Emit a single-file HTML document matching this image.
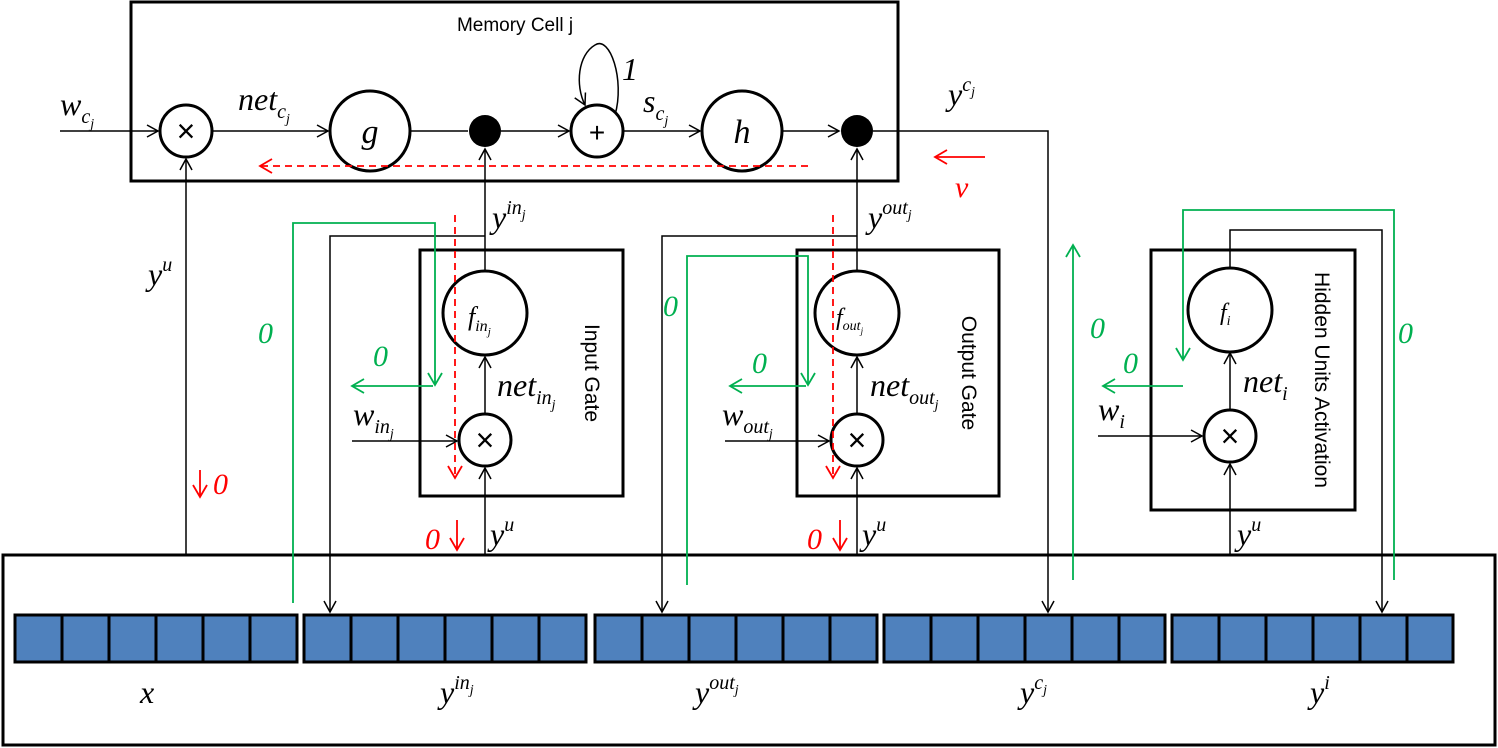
<!DOCTYPE html>
<html><head><meta charset="utf-8"><style>
html,body{margin:0;padding:0;background:#fff}
svg{display:block}
.m{font-family:"Liberation Serif",serif;font-style:italic;fill:#000}
.s{font-family:"Liberation Sans",sans-serif;fill:#000}
.g{font-family:"Liberation Serif",serif;font-style:italic;fill:#00b050;font-size:30px}
.r{font-family:"Liberation Serif",serif;font-style:italic;fill:#ff0000;font-size:30px}
</style></head><body>
<svg width="1498" height="748" viewBox="0 0 1498 748" xmlns="http://www.w3.org/2000/svg">
<defs>
<marker id="a" markerWidth="14" markerHeight="14" refX="12" refY="7" orient="auto" markerUnits="userSpaceOnUse"><path d="M1,1 L12,7 L1,13" fill="none" stroke="#000" stroke-width="1.5"/></marker>
<marker id="agf" markerWidth="18" markerHeight="18" refX="14" refY="8" orient="auto" markerUnits="userSpaceOnUse"><path d="M2,1 L14,8 L2,15" fill="none" stroke="#00b050" stroke-width="1.8"/></marker>
<marker id="ar" markerWidth="18" markerHeight="18" refX="14" refY="8" orient="auto" markerUnits="userSpaceOnUse"><path d="M2,1 L14,8 L2,15" fill="none" stroke="#ff0000" stroke-width="1.8"/></marker>
</defs>
<g fill="none" stroke="#000" stroke-width="3">
<rect x="131" y="2" width="767" height="179"/>
<rect x="420" y="250" width="203" height="246"/>
<rect x="797" y="250" width="202" height="246"/>
<rect x="1151" y="250" width="204" height="260"/>
<rect x="3" y="555" width="1492" height="190"/>
</g>
<text x="515" y="31" class="s" font-size="19" text-anchor="middle">Memory Cell j</text>
<g stroke="#000" stroke-width="1.5" fill="none">
<line x1="60" y1="131" x2="158" y2="131" marker-end="url(#a)"/>
<line x1="212" y1="131" x2="328" y2="131" marker-end="url(#a)"/>
<line x1="410" y1="131" x2="468" y2="131"/>
<line x1="501" y1="131" x2="569" y2="131" marker-end="url(#a)"/>
<line x1="623" y1="131" x2="700" y2="131" marker-end="url(#a)"/>
<line x1="782" y1="131" x2="839" y2="131" marker-end="url(#a)"/>
<path d="M873,131 H1048 V612" marker-end="url(#a)"/>
<path d="M615,115 C625,80 610,35 595,45 C578,55 575,85 585,105" marker-end="url(#a)"/>
<line x1="186" y1="555" x2="186" y2="159" marker-end="url(#a)"/>
<line x1="485" y1="271" x2="485" y2="149" marker-end="url(#a)"/>
<line x1="485" y1="414" x2="485" y2="357" marker-end="url(#a)"/>
<line x1="485" y1="555" x2="485" y2="468" marker-end="url(#a)"/>
<path d="M485,236 H330 V612" marker-end="url(#a)"/>
<line x1="352" y1="441" x2="457" y2="441" marker-end="url(#a)"/>
<line x1="857" y1="271" x2="857" y2="149" marker-end="url(#a)"/>
<line x1="857" y1="414" x2="857" y2="357" marker-end="url(#a)"/>
<line x1="857" y1="555" x2="857" y2="468" marker-end="url(#a)"/>
<path d="M857,236 H662 V612" marker-end="url(#a)"/>
<line x1="725" y1="441" x2="829" y2="441" marker-end="url(#a)"/>
<path d="M1230,268 V230 H1382 V612" marker-end="url(#a)"/>
<line x1="1230" y1="410" x2="1230" y2="353" marker-end="url(#a)"/>
<line x1="1230" y1="555" x2="1230" y2="464" marker-end="url(#a)"/>
<line x1="1098" y1="436" x2="1202" y2="436" marker-end="url(#a)"/>
</g>
<g stroke="#000" stroke-width="3" fill="#fff">
<circle cx="186" cy="131" r="26"/>
<circle cx="370" cy="131" r="40"/>
<circle cx="597" cy="131" r="26"/>
<circle cx="742" cy="131" r="40"/>
<circle cx="485" cy="313" r="42"/>
<circle cx="485" cy="440" r="26"/>
<circle cx="857" cy="313" r="42"/>
<circle cx="857" cy="440" r="26"/>
<circle cx="1230" cy="310" r="42"/>
<circle cx="1230" cy="436" r="26"/>
</g>
<circle cx="485" cy="131" r="16" fill="#000"/>
<circle cx="857" cy="131" r="16" fill="#000"/>
<g class="s" font-size="32" text-anchor="middle">
<text x="186" y="142">×</text><text x="485" y="451">×</text><text x="857" y="451">×</text><text x="1230" y="447">×</text>
<text x="597" y="142" font-size="28">+</text>
</g>
<g stroke="#ff0000" stroke-width="1.8" fill="none">
<line x1="808" y1="166" x2="260" y2="166" stroke-dasharray="7,5" marker-end="url(#ar)"/>
<line x1="985" y1="157" x2="935" y2="157" marker-end="url(#ar)"/>
<line x1="455" y1="215" x2="455" y2="478" stroke-dasharray="7,5" marker-end="url(#ar)"/>
<line x1="833" y1="215" x2="833" y2="478" stroke-dasharray="7,5" marker-end="url(#ar)"/>
<line x1="200" y1="470" x2="200" y2="497" marker-end="url(#ar)"/>
<line x1="457" y1="520" x2="457" y2="550" marker-end="url(#ar)"/>
<line x1="840" y1="520" x2="840" y2="550" marker-end="url(#ar)"/>
</g>
<text x="955" y="197" class="r">v</text>
<text x="213" y="494" class="r">0</text>
<text x="425" y="549" class="r">0</text>
<text x="807" y="549" class="r">0</text>
<g stroke="#00b050" stroke-width="1.8" fill="none">
<path d="M293,603 V223 H435 V385" marker-end="url(#agf)"/>
<line x1="433" y1="386" x2="352" y2="386" marker-end="url(#agf)"/>
<path d="M687,585 V256 H808 V385" marker-end="url(#agf)"/>
<line x1="806" y1="386" x2="730" y2="386" marker-end="url(#agf)"/>
<path d="M1394,580 V210 H1183 V360" marker-end="url(#agf)"/>
<line x1="1183" y1="386" x2="1103" y2="386" marker-end="url(#agf)"/>
<line x1="1073" y1="580" x2="1073" y2="245" marker-end="url(#agf)"/>
</g>
<g class="g">
<text x="258" y="343">0</text><text x="373" y="366">0</text><text x="663" y="316">0</text>
<text x="752" y="373">0</text><text x="1090" y="338">0</text><text x="1123" y="373">0</text><text x="1398" y="343">0</text>
</g>
<g class="m">
<text x="60" y="115" font-size="32">w<tspan font-size="20" dy="8">c</tspan><tspan font-size="14" dy="5">j</tspan></text>
<text x="238" y="110" font-size="32">net<tspan font-size="20" dy="8">c</tspan><tspan font-size="14" dy="5">j</tspan></text>
<text x="370" y="143" font-size="34" text-anchor="middle">g</text>
<text x="742" y="143" font-size="34" text-anchor="middle">h</text>
<text x="622" y="80" font-size="32">1</text>
<text x="643" y="112" font-size="32">s<tspan font-size="20" dy="8">c</tspan><tspan font-size="14" dy="5">j</tspan></text>
<text x="948" y="105" font-size="32">y<tspan font-size="20" dy="-14">c</tspan><tspan font-size="14" dy="5">j</tspan></text>
<text x="148" y="285" font-size="32">y<tspan font-size="20" dy="-14">u</tspan></text>
<text x="492" y="228" font-size="32">y<tspan font-size="20" dy="-14">in</tspan><tspan font-size="14" dy="5">j</tspan></text>
<text x="868" y="228" font-size="32">y<tspan font-size="20" dy="-14">out</tspan><tspan font-size="14" dy="5">j</tspan></text>
<text x="468" y="325" font-size="26">f<tspan font-size="16" dy="6">in</tspan><tspan font-size="11" dy="4">j</tspan></text>
<text x="836" y="325" font-size="24">f<tspan font-size="14" dy="5">out</tspan><tspan font-size="9" dy="4">j</tspan></text>
<text x="1220" y="320" font-size="24">f<tspan font-size="14" dy="5">i</tspan></text>
<text x="497" y="396" font-size="32">net<tspan font-size="20" dy="8">in</tspan><tspan font-size="14" dy="5">j</tspan></text>
<text x="870" y="396" font-size="32">net<tspan font-size="20" dy="8">out</tspan><tspan font-size="14" dy="5">j</tspan></text>
<text x="1243" y="392" font-size="32">net<tspan font-size="20" dy="8">i</tspan></text>
<text x="353" y="425" font-size="32">w<tspan font-size="20" dy="8">in</tspan><tspan font-size="14" dy="5">j</tspan></text>
<text x="722" y="425" font-size="32">w<tspan font-size="20" dy="8">out</tspan><tspan font-size="14" dy="5">j</tspan></text>
<text x="1098" y="420" font-size="32">w<tspan font-size="20" dy="8">i</tspan></text>
<text x="490" y="545" font-size="32">y<tspan font-size="20" dy="-14">u</tspan></text>
<text x="862" y="545" font-size="32">y<tspan font-size="20" dy="-14">u</tspan></text>
<text x="1237" y="545" font-size="32">y<tspan font-size="20" dy="-14">u</tspan></text>
<text x="140" y="703" font-size="32">x</text>
<text x="440" y="703" font-size="32">y<tspan font-size="20" dy="-14">in</tspan><tspan font-size="14" dy="5">j</tspan></text>
<text x="695" y="703" font-size="32">y<tspan font-size="20" dy="-14">out</tspan><tspan font-size="14" dy="5">j</tspan></text>
<text x="1020" y="703" font-size="32">y<tspan font-size="20" dy="-14">c</tspan><tspan font-size="14" dy="5">j</tspan></text>
<text x="1310" y="703" font-size="32">y<tspan font-size="20" dy="-14">i</tspan></text>
</g>
<g class="s" font-size="21" text-anchor="middle">
<text transform="translate(585,373) rotate(90)">Input Gate</text>
<text transform="translate(962,373) rotate(90)">Output Gate</text>
<text transform="translate(1315,380) rotate(90)">Hidden Units Activation</text>
</g>
<g fill="#4f81bd" stroke="#000" stroke-width="3">
<rect x="15" y="615" width="282" height="47"/>
<rect x="304" y="615" width="282" height="47"/>
<rect x="595" y="615" width="282" height="47"/>
<rect x="884" y="615" width="281" height="47"/>
<rect x="1172" y="615" width="281" height="47"/>
</g>
<g stroke="#000" stroke-width="3">
<path d="M62,615V662M109,615V662M156,615V662M203,615V662M250,615V662"/>
<path d="M351,615V662M398,615V662M445,615V662M492,615V662M539,615V662"/>
<path d="M642,615V662M689,615V662M736,615V662M783,615V662M830,615V662"/>
<path d="M931,615V662M978,615V662M1025,615V662M1072,615V662M1119,615V662"/>
<path d="M1219,615V662M1266,615V662M1313,615V662M1360,615V662M1407,615V662"/>
</g>
</svg>
</body></html>
